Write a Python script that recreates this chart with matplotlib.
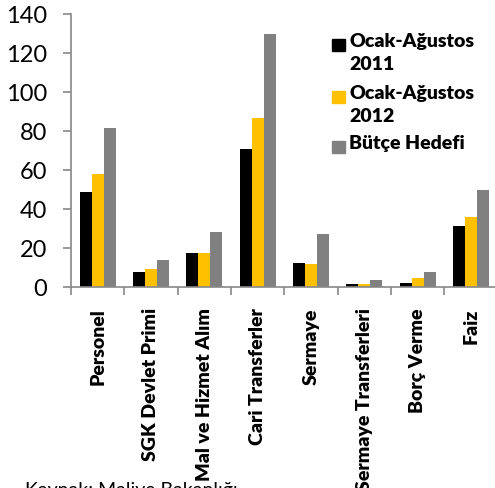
import matplotlib
matplotlib.use('Agg')
import matplotlib.pyplot as plt
from matplotlib.patches import Rectangle
import numpy as np

categories = ['Personel', 'SGK Devlet Primi', 'Mal ve Hizmet Alım', 'Cari Transferler',
              'Sermaye', 'Sermaye Transferleri', 'Borç Verme', 'Faiz']
series_names = ['Ocak-Ağustos\n2011', 'Ocak-Ağustos\n2012', 'Bütçe Hedefi']
vals_2011 = [48.7, 8.0, 17.9, 70.9, 12.3, 2.0, 2.4, 31.4]
vals_2012 = [58.1, 9.4, 17.4, 86.7, 11.9, 1.7, 4.9, 35.9]
vals_target = [81.5, 14.0, 28.4, 130.0, 27.3, 3.7, 8.0, 49.9]
colors = ['#000000', '#FFC000', '#808080']

plt.rcParams['font.family'] = ['Lato', 'DejaVu Sans']

W, H = 495, 488
fig = plt.figure(figsize=(W / 100, H / 100), dpi=100)
ax = fig.add_axes([0.1434, 0.411, 0.862, 0.5596])

x = np.arange(len(categories))
w = 0.225
for i, (vals, c, name) in enumerate(zip([vals_2011, vals_2012, vals_target], colors, series_names)):
    ax.bar(x + (i - 1) * w, vals, width=w, color=c, label=name, zorder=2)

ax.set_xlim(-0.5, len(categories) - 0.5)
ax.set_ylim(0, 140)
ax.set_yticks(range(0, 141, 20))
ax.tick_params(axis='y', labelsize=17, length=6, color='#888888', width=1.2, pad=11)

ax.set_xticks(x)
ax.set_xticklabels(categories, rotation=90, fontsize=14, fontweight='heavy')
ax.tick_params(axis='x', length=0, pad=15)
ax.set_xticks(np.arange(-0.5, len(categories), 1), minor=True)
ax.tick_params(axis='x', which='minor', length=6, color='#888888', width=1.2)

for s in ['top', 'right']:
    ax.spines[s].set_visible(False)
for s in ['left', 'bottom']:
    ax.spines[s].set_color('#888888')
    ax.spines[s].set_linewidth(1.2)

# legend drawn by hand so the square sits on the first line of each label
# (pixel positions measured from the top-left of the image)
leg_rows = [45, 97, 147]
for name, c, yc in zip(series_names, colors, leg_rows):
    fig.add_artist(Rectangle((332 / W, 1 - (yc + 6) / H), 13 / W, 12 / H,
                             transform=fig.transFigure, color=c))
    fig.text(349 / W, 1 - (yc - 12) / H, name, fontsize=14, fontweight='heavy',
             va='top', ha='left', linespacing=1.45)

fig.text(0.05, 0.0123, 'Kaynak: Maliye Bakanlığı', fontsize=14, va='top', ha='left')

fig.savefig('out.png', dpi=100)
